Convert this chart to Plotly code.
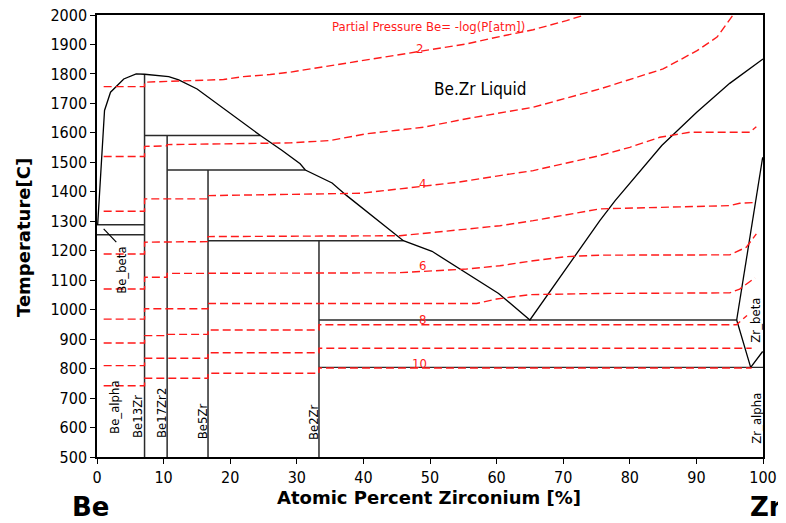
import plotly.graph_objects as go

# ---------------- data ----------------
# Be-rich liquidus and Zr-rich liquidus (one continuous curve)
liquidus_x = [0.1, 0.78, 1.13, 2.03, 4.02, 5.88, 7.14, 10.77, 12.27, 15.03, 24.53, 27.8, 30.5,
              31.28, 35.3, 37.5, 46.0, 50.3, 55.0, 60.3, 65.0, 75.5, 77.8, 84.8, 90.05, 95.0, 100.0]
liquidus_T = [1288, 1540, 1676, 1738, 1783, 1800, 1799, 1791, 1780, 1749, 1591, 1540, 1495,
              1474, 1430, 1387, 1234, 1198, 1132, 1055, 965, 1302, 1370, 1557, 1670, 1768, 1851]

# Zr side solidus / solvus lines
zr_beta_solidus_x = [96.05, 99.95]
zr_beta_solidus_T = [965, 1517]
zr_beta_alpha_x = [96.05, 98.15, 99.95]
zr_beta_alpha_T = [965, 804, 858]

# Be side lines
be_melt_x = [0.0, 7.14]
be_melt_T = [1288, 1288]
be_trans_x = [0.0, 7.14]
be_trans_T = [1254, 1254]
be_beta_x = [1.0, 2.9]
be_beta_T = [1274, 1229]

# intermetallic compounds (vertical lines) and their upper limits
compound_names = ["Be13Zr", "Be17Zr2", "Be5Zr", "Be2Zr"]
compound_x = [7.14, 10.53, 16.67, 33.33]
compound_top = [1800, 1591, 1474, 1234]

# invariant horizontal lines: start x, end x, temperature
invariant_x0 = [7.14, 10.53, 16.67, 33.33, 33.33]
invariant_x1 = [24.53, 31.28, 46.0, 96.05, 100.0]
invariant_T = [1591, 1474, 1234, 965, 804]

# Be partial pressure isobars (-log P[atm])
iso2_x = [1.0, 7.14, 7.14, 12.0, 16.5, 19.0, 22.0, 26.0, 29.0, 35.5, 40.5, 45.5, 50.5, 55.5, 60.5, 65.5, 70.5, 73.2]
iso2_T = [1757, 1757, 1772, 1775, 1778, 1781, 1791, 1798, 1806, 1829, 1848, 1865, 1883, 1902, 1927, 1950, 1981, 2000]
iso3_x = [1.0, 7.14, 7.14, 10.53, 10.53, 29.0, 35.0, 40.5, 49.0, 55.5, 65.5, 75.5, 85.0, 90.1, 93.1, 94.8, 95.5]
iso3_T = [1520, 1520, 1554, 1556, 1560, 1566, 1574, 1597, 1619, 1648, 1687, 1749, 1817, 1879, 1925, 1976, 2000]
iso4_x = [1.0, 7.14, 7.14, 16.67, 16.67, 29.0, 39.5, 45.5, 54.0, 60.5, 65.5, 75.5, 80.0, 84.5, 89.0, 98.0, 99.0]
iso4_T = [1334, 1334, 1376, 1376, 1387, 1390, 1395, 1410, 1432, 1455, 1472, 1523, 1551, 1585, 1602, 1602, 1621]
iso5_x = [1.0, 7.14, 7.14, 16.67, 16.67, 45.5, 50.5, 60.5, 65.5, 70.5, 75.5, 95.0, 96.5, 99.0]
iso5_T = [1189, 1189, 1229, 1231, 1248, 1251, 1262, 1285, 1302, 1322, 1342, 1353, 1361, 1364]
iso6_x = [1.0, 7.14, 7.14, 10.53, 10.53, 45.0, 55.5, 60.5, 65.5, 70.5, 75.5, 95.0, 97.5, 99.0]
iso6_T = [1070, 1070, 1110, 1110, 1123, 1125, 1138, 1149, 1166, 1180, 1185, 1186, 1212, 1257]
iso7_x = [1.0, 7.14, 7.14, 16.67, 16.67, 57.0, 60.0, 65.0, 75.5, 95.0, 96.5, 98.8]
iso7_T = [968, 968, 1003, 1003, 1021, 1021, 1036, 1051, 1055, 1057, 1070, 1108]
iso8_x = [1.0, 7.14, 7.14, 10.53, 10.53, 16.67, 16.67, 33.33, 33.33, 96.0, 97.6]
iso8_T = [887, 887, 912, 912, 916, 916, 931, 931, 949, 949, 980]
iso9_x = [1.0, 7.14, 7.14, 16.67, 16.67, 33.33, 33.33, 98.3]
iso9_T = [810, 810, 835, 835, 854, 854, 869, 869]
iso10_x = [1.0, 7.14, 7.14, 16.67, 16.67, 33.33, 33.33, 98.3]
iso10_T = [742, 742, 767, 767, 784, 784, 802, 802]

# isobar labels
iso_label_text = ["2", "4", "6", "8", "10"]
iso_label_x = [48.4, 48.8, 48.8, 48.8, 48.4]
iso_label_T = [1886, 1427, 1149, 966, 816]

# phase labels (vertical)
phase_text = ["Be_beta", "Be_alpha", "Be13Zr", "Be17Zr2", "Be5Zr", "Be2Zr", "Zr_beta", "Zr_alpha"]
phase_x = [3.75, 2.7, 6.16, 9.6, 15.8, 32.6, 98.9, 98.9]
phase_T = [1135, 670, 636, 649, 622, 619, 965, 632]

x_ticks = [0, 10, 20, 30, 40, 50, 60, 70, 80, 90, 100]
y_ticks = [500, 600, 700, 800, 900, 1000, 1100, 1200, 1300, 1400, 1500, 1600, 1700, 1800, 1900, 2000]

# ---------------- figure ----------------
BLACK = "#000000"
DARK = "#2a2a2a"
RED = "#ff1a1a"
COND = "DejaVu Sans Condensed, DejaVu Sans, sans-serif"
BOLD = "DejaVu Sans, Verdana, sans-serif"

fig = go.Figure()

def line(x, y, color=BLACK, width=1.3, dash=None):
    fig.add_trace(go.Scatter(x=x, y=y, mode="lines", hoverinfo="skip", showlegend=False,
                             line=dict(color=color, width=width, dash=dash)))

# compound vertical lines
for cx, ct in zip(compound_x, compound_top):
    line([cx, cx], [500, ct], DARK, 1.5)
# invariant lines
for a, b, t in zip(invariant_x0, invariant_x1, invariant_T):
    line([a, b], [t, t], DARK, 1.4)
line(be_melt_x, be_melt_T, DARK, 1.4)
line(be_trans_x, be_trans_T, DARK, 1.4)
line(be_beta_x, be_beta_T, BLACK, 1.2)
line(liquidus_x, liquidus_T, BLACK, 1.3)
line(zr_beta_solidus_x, zr_beta_solidus_T, BLACK, 1.3)
line(zr_beta_alpha_x, zr_beta_alpha_T, BLACK, 1.3)

# isobars
isobars = [(iso2_x, iso2_T), (iso3_x, iso3_T), (iso4_x, iso4_T), (iso5_x, iso5_T), (iso6_x, iso6_T),
           (iso7_x, iso7_T), (iso8_x, iso8_T), (iso9_x, iso9_T), (iso10_x, iso10_T)]
for ix, it in isobars:
    line(ix, it, RED, 1.4, "8px,4px")

annotations = []
for t, x, y in zip(iso_label_text, iso_label_x, iso_label_T):
    annotations.append(dict(x=x, y=y, xref="x", yref="y", text=t, showarrow=False,
                            font=dict(family=COND, size=13, color=RED)))
annotations.append(dict(x=49.8, y=1961, xref="x", yref="y", text="Partial Pressure Be= -log(P[atm])",
                        showarrow=False, font=dict(family=COND, size=13, color=RED)))
annotations.append(dict(x=57.6, y=1750, xref="x", yref="y", text="Be.Zr Liquid",
                        showarrow=False, font=dict(family=COND, size=17, color=BLACK)))
for t, x, y in zip(phase_text, phase_x, phase_T):
    annotations.append(dict(x=x, y=y, xref="x", yref="y", text=t, textangle=-90, showarrow=False,
                            font=dict(family=COND, size=13, color=BLACK)))
# axis titles and element labels
annotations.append(dict(x=0.4985, y=-0.0905, xref="paper", yref="paper", xanchor="center", yanchor="middle",
                        text="<b>Atomic Percent Zirconium [%]</b>",
                        showarrow=False, font=dict(family=BOLD, size=18, color=BLACK)))
annotations.append(dict(x=-0.1096, y=0.4955, xref="paper", yref="paper", xanchor="center", yanchor="middle",
                        text="<b>Temperature[C]</b>",
                        textangle=-90, showarrow=False, font=dict(family=BOLD, size=18, color=BLACK)))
annotations.append(dict(x=-0.0093, y=-0.112, xref="paper", yref="paper", xanchor="center", yanchor="middle",
                        text="<b>Be</b>",
                        showarrow=False, font=dict(family=BOLD, size=26, color=BLACK)))
annotations.append(dict(x=0.978, y=-0.112, xref="paper", yref="paper", xanchor="left", yanchor="middle",
                        text="<b>Zr</b>",
                        showarrow=False, font=dict(family=BOLD, size=26, color=BLACK)))

axis_common = dict(showline=True, mirror=True, linecolor=BLACK, linewidth=1.5, ticks="outside",
                   ticklen=5, tickwidth=1, tickcolor=BLACK, showgrid=False, zeroline=False,
                   ticklabeloverflow="allow",
                   tickfont=dict(family=COND, size=16, color=BLACK))

# the page body adds an 8 px offset, so the figure is 8 px smaller and margins compensate
fig.update_layout(
    width=778, height=515,
    margin=dict(l=89, r=23, t=7, b=66, autoexpand=False),
    paper_bgcolor="white", plot_bgcolor="white",
    xaxis=dict(range=[0, 100], tickvals=x_ticks, **axis_common),
    yaxis=dict(range=[500, 2000], tickvals=y_ticks, **axis_common),
    annotations=annotations,
    showlegend=False,
)

fig.write_html("out.html")
